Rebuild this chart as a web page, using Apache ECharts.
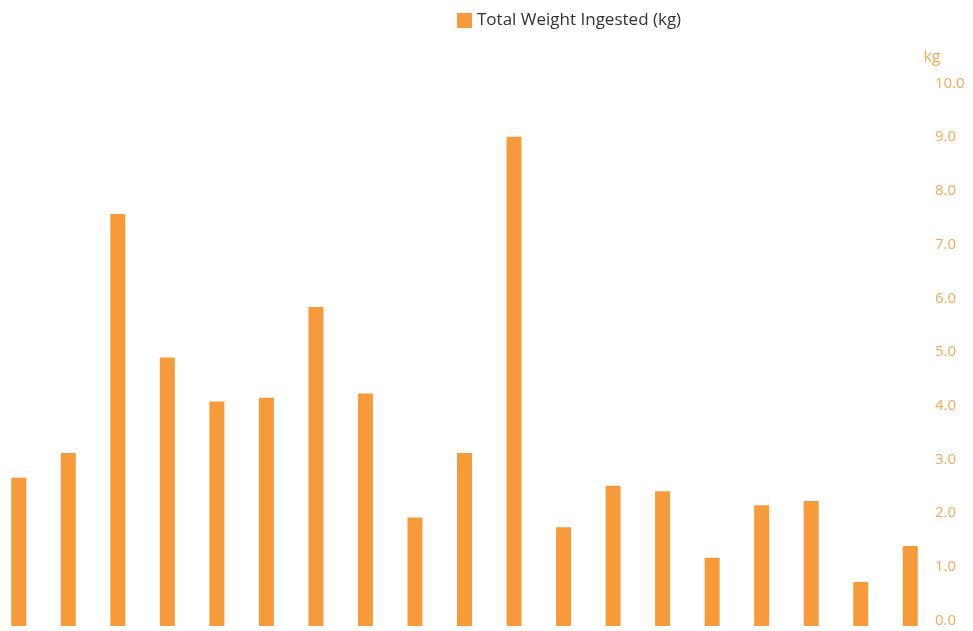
<!DOCTYPE html>
<html>
<head>
<meta charset="utf-8">
<script src="https://cdn.jsdelivr.net/npm/echarts@6/dist/echarts.min.js"></script>
<style>
  html, body { margin: 0; padding: 0; background: #ffffff; }
  #chart { width: 973px; height: 631px; }
</style>
</head>
<body>
<div id="chart"></div>
<script>
// Weight ingested per entry, in kg
const categories = ['1', '2', '3', '4', '5', '6', '7', '8', '9', '10',
                    '11', '12', '13', '14', '15', '16', '17', '18', '19'];
const weightKg = [2.76, 3.22, 7.67, 5.00, 4.18, 4.25, 5.94, 4.33, 2.02, 3.22,
                  9.11, 1.84, 2.61, 2.51, 1.27, 2.25, 2.33, 0.82, 1.49];
const seriesName = 'Total Weight Ingested (kg)';
const axisUnit = 'kg';

const barColor = '#F79B3A';
const labelColor = '#F6A957';

const chart = echarts.init(document.getElementById('chart'), null, { renderer: 'canvas' });

chart.setOption({
  animation: false,
  backgroundColor: '#ffffff',
  legend: {
    top: 7,
    left: 452,
    itemWidth: 15,
    itemHeight: 15,
    itemGap: 6,
    icon: 'rect',
    textStyle: { color: '#333333', fontSize: 17, fontFamily: 'Open Sans' },
    data: [seriesName]
  },
  grid: { left: -6, right: 38, top: 89, bottom: 5, containLabel: false, outerBoundsMode: 'none' },
  xAxis: {
    type: 'category',
    data: categories,
    axisLine: { show: false },
    axisTick: { show: false },
    axisLabel: { show: false },
    splitLine: { show: false }
  },
  yAxis: {
    type: 'value',
    position: 'right',
    min: 0,
    max: 10,
    interval: 1,
    name: axisUnit,
    nameLocation: 'end',
    nameGap: 24,
    nameTextStyle: { color: labelColor, fontSize: 16, fontFamily: 'Open Sans', align: 'center', padding: [0, 6, 0, 0] },
    axisLine: { show: false },
    axisTick: { show: false },
    splitLine: { show: false },
    axisLabel: {
      margin: 0,
      color: labelColor,
      fontSize: 15,
      fontFamily: 'Open Sans',
      verticalAlign: 'bottom',
      lineHeight: 11,
      formatter: v => v.toFixed(1)
    }
  },
  series: [{
    name: seriesName,
    type: 'bar',
    data: weightKg,
    barWidth: 15,
    itemStyle: { color: barColor }
  }]
});
</script>
</body>
</html>
